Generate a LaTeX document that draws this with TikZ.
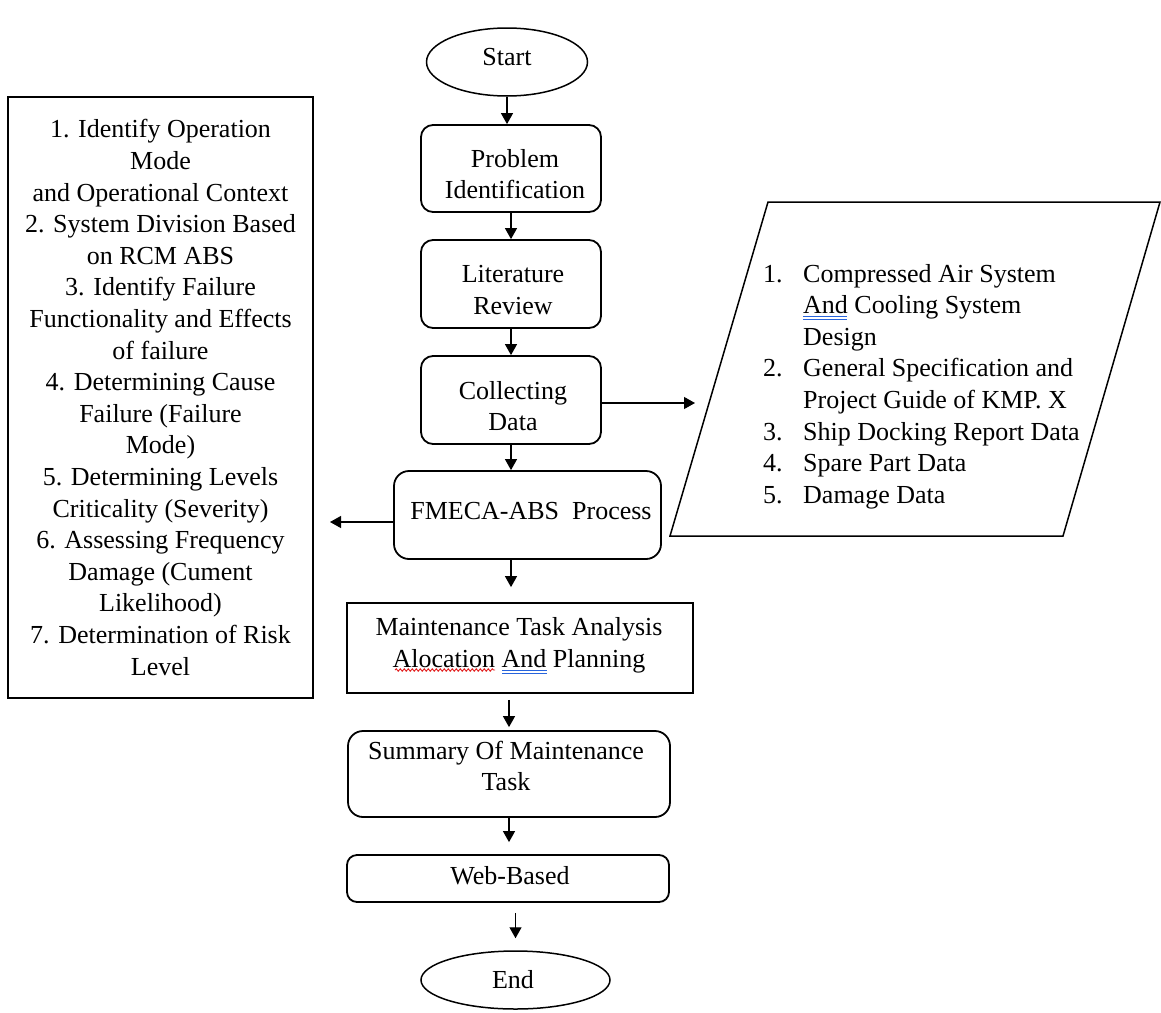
\documentclass[tikz,border=0pt]{standalone}
\usepackage{fontspec}
\setmainfont{Liberation Serif}
\usetikzlibrary{arrows.meta,shapes.geometric,decorations.pathmorphing,calc}
\definecolor{spellblue}{RGB}{40,100,220}
\definecolor{spellred}{RGB}{225,30,30}
\begin{document}
\begin{tikzpicture}[x=1pt,y=-1pt,
  every node/.style={font=\fontsize{26}{31.6}\selectfont},
  rbox/.style={draw,line width=1.8pt,rounded corners=12pt,inner sep=0pt},
  sqbox/.style={draw,line width=1.8pt,inner sep=0pt},
  oval/.style={draw,ellipse,line width=1.5pt,inner sep=0pt},
  txt/.style={align=center,inner sep=0pt},
  arr/.style={line width=1.2pt,-{Triangle[length=11pt,width=12pt]}},
  spellu/.style={spellblue,line width=1pt},
  spellw/.style={spellred,line width=0.9pt,decorate,decoration={snake,amplitude=1.2pt,segment length=4pt}}]
\useasboundingbox (0,0) rectangle (1161,1012);

% main column
\node[oval,minimum width=161pt,minimum height=68pt] (start) at (507,62) {};
\node[txt] (startT) at (507,57) {Start};

\node[rbox,minimum width=180pt,minimum height=87pt] (prob) at (511,168.5) {};
\node[txt] (probT) at (515,174) {Problem\\Identification};

\node[rbox,minimum width=180pt,minimum height=88pt] (lit) at (511,284) {};
\node[txt] (litT) at (513,290) {Literature\\Review};

\node[rbox,minimum width=180pt,minimum height=88pt] (coll) at (511,400) {};
\node[txt] (collT) at (513,406) {Collecting\\Data};

\node[rbox,rounded corners=15pt,minimum width=267pt,minimum height=88pt] (fmeca) at (527.5,515) {};
\node[txt] (fmecaT) at (531,511) {FMECA-ABS\ \ Process};

\node[sqbox,minimum width=346pt,minimum height=90pt] (maint) at (520,648) {};
\node[txt] (maintT) at (519,645) {Maintenance Task Analysis\\Alocation And Planning};

\node[rbox,rounded corners=15pt,minimum width=322pt,minimum height=86pt] (sum) at (509,774) {};
\node[txt] (sumT) at (506,766) {Summary Of Maintenance\\Task};

\node[rbox,rounded corners=10pt,minimum width=322pt,minimum height=47pt] (web) at (508,878.5) {};
\node[txt] (webT) at (510,876) {Web-Based};

\node[oval,minimum width=189pt,minimum height=58pt] (end) at (515.5,980) {};
\node[txt] (endT) at (513,980) {End};

% left steps box
\node[sqbox,line width=1.5pt,minimum width=305pt,minimum height=601pt,align=center] (steps) at (160.5,397.5) {%
1. Identify Operation\\Mode\\and Operational Context\\2. System Division Based\\on RCM ABS\\3. Identify Failure\\Functionality and Effects\\of failure\\4. Determining Cause\\Failure (Failure\\Mode)\\5. Determining Levels\\Criticality (Severity)\\6. Assessing Frequency\\Damage (Cument\\Likelihood)\\7. Determination of Risk\\Level};

% data parallelogram
\draw[line width=1.5pt] (768,202) -- (1160,202) -- (1063,536) -- (670,536) -- cycle;
\node[inner sep=0pt,anchor=base west] (dataT) at (763,282) {%
\begin{tabular}[t]{@{}p{40pt}@{}l@{}}
1. & Compressed Air System\\
   & And Cooling System\\
   & Design\\
2. & General Specification and\\
   & Project Guide of KMP. X\\
3. & Ship Docking Report Data\\
4. & Spare Part Data\\
5. & Damage Data
\end{tabular}};
\coordinate (dataIn) at (695,403);
\coordinate (stepsIn) at (330,522);

% connectors
\draw[arr] (start.south) -- (start.south |- prob.north);
\draw[arr] (prob.south) -- (lit.north);
\draw[arr] (lit.south) -- (coll.north);
\draw[arr] (coll.south) -- (coll.south |- fmeca.north);
\draw[arr,shorten >=15pt] (fmeca.south -| coll.south) -- (coll.south |- maint.north);
\draw[arr,shorten <=6pt,shorten >=3pt] (maint.south -| sum.north) -- (sum.north);
\draw[arr,shorten >=12pt] (sum.south) -- (sum.south |- web.north);
\draw[arr,shorten <=10pt,shorten >=12pt] (web.south -| end.north) -- (end.north);
\draw[arr] ([yshift=-3pt]coll.east) -- ([yshift=-3pt]coll.east -| dataIn);
\draw[arr] ([yshift=-7pt]fmeca.west) -- ([yshift=-7pt]fmeca.west -| stepsIn);

% spell-check marks
\draw[spellu] (803,316) -- (847,316) (803,319) -- (847,319);
\draw[spellw] (395,670) -- (495,670);
\draw[spellu] (502,670) -- (547,670) (502,673) -- (547,673);
\end{tikzpicture}
\end{document}
